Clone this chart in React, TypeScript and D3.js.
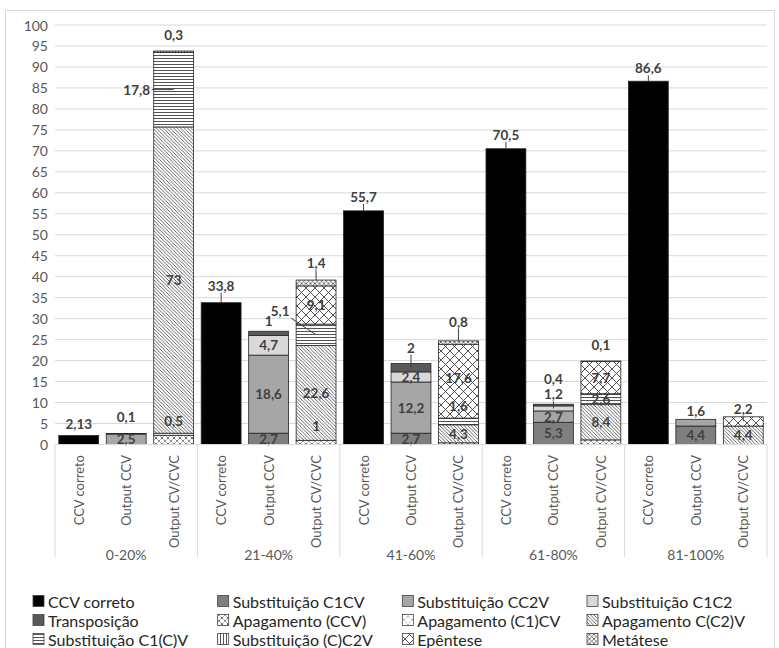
import React from 'react';
import * as d3 from 'd3';

const groups = ['0-20%', '21-40%', '41-60%', '61-80%', '81-100%'];
const subCategories = ['CCV correto', 'Output CCV', 'Output CV/CVC'];

const seriesNames = [
  'CCV correto',
  'Substituição C1CV',
  'Substituição CC2V',
  'Substituição C1C2',
  'Transposição',
  'Apagamento (CCV)',
  'Apagamento (C1)CV',
  'Apagamento C(C2)V',
  'Substituição C1(C)V',
  'Substituição (C)C2V',
  'Epêntese',
  'Metátese',
];

// one value per bar: 0-20% (CCV correto, Output CCV, Output CV/CVC), 21-40% ..., 81-100%
const ccvCorreto = [2.13, 0, 0, 33.8, 0, 0, 55.7, 0, 0, 70.5, 0, 0, 86.6, 0, 0];
const substC1CV = [0, 0, 0, 0, 2.7, 0, 0, 2.7, 0, 0, 5.3, 0, 0, 4.4, 0];
const substCC2V = [0, 2.5, 0, 0, 18.6, 0, 0, 12.2, 0, 0, 2.7, 0, 0, 1.6, 0];
const substC1C2 = [0, 0, 0, 0, 4.7, 0, 0, 2.4, 0, 0, 1.2, 0, 0, 0, 0];
const transposicao = [0, 0.1, 0, 0, 1, 0, 0, 2, 0, 0, 0.4, 0, 0, 0, 0];
const apagCCV = [0, 0, 2.2, 0, 0, 1, 0, 0, 0.4, 0, 0, 1.1, 0, 0, 0];
const apagC1CV = [0, 0, 0.5, 0, 0, 0, 0, 0, 0, 0, 0, 0, 0, 0, 0];
const apagCC2V = [0, 0, 73, 0, 0, 22.6, 0, 0, 4.3, 0, 0, 8.4, 0, 0, 4.4];
const substC1_C_V = [0, 0, 17.8, 0, 0, 5.1, 0, 0, 1.6, 0, 0, 2.6, 0, 0, 0];
const substC_C2V = [0, 0, 0.3, 0, 0, 0, 0, 0, 0, 0, 0, 0, 0, 0, 0];
const epentese = [0, 0, 0, 0, 0, 9.1, 0, 0, 17.6, 0, 0, 7.7, 0, 0, 2.2];
const metatese = [0, 0, 0, 0, 0, 1.4, 0, 0, 0.8, 0, 0, 0.1, 0, 0, 0];

const seriesValues = [
  ccvCorreto, substC1CV, substCC2V, substC1C2, transposicao, apagCCV,
  apagC1CV, apagCC2V, substC1_C_V, substC_C2V, epentese, metatese,
];

const yTicks = d3.range(0, 101, 5);

// data label placement: series index, bar index, anchor, offsets, leader line
const labelLayout = [
  { s: 0, c: 0, at: 'top', dx: 0, dy: -12, leader: false },
  { s: 4, c: 1, at: 'top', dx: 0, dy: -17, leader: false },
  { s: 2, c: 1, at: 'center', dx: 0, dy: 0, leader: false },
  { s: 9, c: 2, at: 'top', dx: 0, dy: -16, leader: false },
  { s: 8, c: 2, at: 'center', dx: -37, dy: 0, leader: true },
  { s: 7, c: 2, at: 'center', dx: 0, dy: 0, leader: false },
  { s: 6, c: 2, at: 'center', dx: 0, dy: -13, leader: false },

  { s: 0, c: 3, at: 'top', dx: 0, dy: -17, leader: true },
  { s: 4, c: 4, at: 'top', dx: 0, dy: -10, leader: false },
  { s: 3, c: 4, at: 'center', dx: 0, dy: 0, leader: false },
  { s: 2, c: 4, at: 'center', dx: 0, dy: 0, leader: false },
  { s: 1, c: 4, at: 'center', dx: 0, dy: 0, leader: false },
  { s: 11, c: 5, at: 'top', dx: 0, dy: -17, leader: true },
  { s: 10, c: 5, at: 'center', dx: 0, dy: 0, leader: false },
  { s: 8, c: 5, at: 'center', dx: -36, dy: -24, leader: true },
  { s: 7, c: 5, at: 'center', dx: 0, dy: 0, leader: false },
  { s: 5, c: 5, at: 'center', dx: 0, dy: -16, leader: false },

  { s: 0, c: 6, at: 'top', dx: 0, dy: -14, leader: true },
  { s: 4, c: 7, at: 'center', dx: 0, dy: -20, leader: true },
  { s: 3, c: 7, at: 'center', dx: 0, dy: 0, leader: false },
  { s: 2, c: 7, at: 'center', dx: 0, dy: 0, leader: false },
  { s: 1, c: 7, at: 'center', dx: 0, dy: 0, leader: false },
  { s: 11, c: 8, at: 'top', dx: 0, dy: -19, leader: true },
  { s: 10, c: 8, at: 'center', dx: 0, dy: -3, leader: false },
  { s: 8, c: 8, at: 'center', dx: 0, dy: -15, leader: false },
  { s: 7, c: 8, at: 'center', dx: 0, dy: 0, leader: false },

  { s: 0, c: 9, at: 'top', dx: 0, dy: -14, leader: true },
  { s: 4, c: 10, at: 'center', dx: 0, dy: -26, leader: false },
  { s: 3, c: 10, at: 'center', dx: 0, dy: -14, leader: true },
  { s: 2, c: 10, at: 'center', dx: 0, dy: 0, leader: false },
  { s: 1, c: 10, at: 'center', dx: 0, dy: 0, leader: false },
  { s: 11, c: 11, at: 'top', dx: 0, dy: -16, leader: false },
  { s: 10, c: 11, at: 'center', dx: 0, dy: 0, leader: false },
  { s: 8, c: 11, at: 'center', dx: 0, dy: 0, leader: false },
  { s: 7, c: 11, at: 'center', dx: 0, dy: 0, leader: false },

  { s: 0, c: 12, at: 'top', dx: 0, dy: -13, leader: true },
  { s: 2, c: 13, at: 'top', dx: 0, dy: -8, leader: false },
  { s: 1, c: 13, at: 'center', dx: 0, dy: 0, leader: false },
  { s: 10, c: 14, at: 'center', dx: 0, dy: -12, leader: true },
  { s: 7, c: 14, at: 'center', dx: 0, dy: 0, leader: false },
];

const fills = [
  '#000000', '#7f7f7f', '#a6a6a6', '#d9d9d9', '#595959',
  'url(#p-apccv)', 'url(#p-apc1cv)', 'url(#p-apcc2v)',
  'url(#p-horiz)', 'url(#p-vert)', 'url(#p-epen)', 'url(#p-meta)',
];

const fmt = (v: number) => String(v).replace('.', ',');

export default function App() {
  const W = 779;
  const H = 648;
  const left = 55;
  const right = 767;
  const cats = groups.flatMap((g) => subCategories.map((s) => `${g}|${s}`));

  const x = d3.scaleBand<string>().domain(cats).range([left, right])
    .paddingInner(0.16).paddingOuter(0.08);
  const y = d3.scaleLinear().domain([0, 100]).range([444.5, 25]);

  const rows = cats.map((c, i) => {
    const r: Record<string, number | string> = { cat: c };
    seriesNames.forEach((n, k) => { r[n] = seriesValues[k][i]; });
    return r;
  });
  const stacked = d3.stack<any>().keys(seriesNames)(rows);
  const totals = cats.map((_, i) => d3.sum(seriesValues, (a) => a[i]));

  const step = x.step();
  const bw = x.bandwidth();
  const font = 'Lato, "Open Sans", sans-serif';
  const textCol = '#595959';
  const labelCol = '#404040';

  const legendItemX = d3.scalePoint<number>().domain([0, 1, 2, 3]).range([33, 587]);
  const legendRowY = d3.scalePoint<number>().domain([0, 1, 2]).range([601, 639]);

  return (
    <svg width={W} height={H} style={{ position: 'absolute', left: 0, top: 0, fontFamily: font }}>
      <defs>
        <pattern id="p-apccv" width="6" height="6" patternUnits="userSpaceOnUse">
          <rect width="6" height="6" fill="#fff" />
          <path d="M0,0L6,6M6,0L0,6" stroke="#404040" strokeWidth="0.8" strokeDasharray="1.6 0.8" />
        </pattern>
        <pattern id="p-apc1cv" width="8" height="8" patternUnits="userSpaceOnUse">
          <rect width="8" height="8" fill="#fff" />
          <path d="M0,0L8,8M8,0L0,8" stroke="#7f7f7f" strokeWidth="0.8" strokeDasharray="1 1.2" />
        </pattern>
        <pattern id="p-apcc2v" width="3.5" height="3.5" patternUnits="userSpaceOnUse">
          <rect width="3.5" height="3.5" fill="#fff" />
          <path d="M0,0L3.5,3.5M-1,2.5L1,4.5M2.5,-1L4.5,1" stroke="#404040" strokeWidth="0.8" />
        </pattern>
        <pattern id="p-horiz" width="4" height="3" patternUnits="userSpaceOnUse">
          <rect width="4" height="3" fill="#fff" />
          <path d="M0,1.5H4" stroke="#404040" strokeWidth="0.9" />
        </pattern>
        <pattern id="p-vert" width="3" height="4" patternUnits="userSpaceOnUse">
          <rect width="3" height="4" fill="#fff" />
          <path d="M1.5,0V4" stroke="#404040" strokeWidth="0.9" />
        </pattern>
        <pattern id="p-epen" width="9" height="9" patternUnits="userSpaceOnUse">
          <rect width="9" height="9" fill="#fff" />
          <path d="M0,0L9,9M9,0L0,9" stroke="#404040" strokeWidth="0.9" />
        </pattern>
        <pattern id="p-meta" width="4.5" height="4.5" patternUnits="userSpaceOnUse">
          <rect width="4.5" height="4.5" fill="#fff" />
          <path d="M0,0L4.5,4.5M4.5,0L0,4.5" stroke="#404040" strokeWidth="0.7" />
        </pattern>
      </defs>

      <rect x={0} y={0} width={W} height={H} fill="#fff" />
      <rect x={5.5} y={10.5} width={769} height={H} fill="none" stroke="#d9d9d9" />

      {/* gridlines + y labels */}
      {yTicks.map((t) => (
        <g key={t}>
          <line x1={left} x2={right} y1={y(t)} y2={y(t)} stroke="#d9d9d9" strokeWidth={1} />
          <text x={48} y={y(t)} textAnchor="end" dominantBaseline="central" fontSize={14} fill={textCol}>
            {t}
          </text>
        </g>
      ))}

      {/* bars */}
      {stacked.map((layer, k) => (
        <g key={layer.key} fill={fills[k]}>
          {layer.map((d, i) => (d[1] - d[0] > 0 ? (
            <rect
              key={i}
              x={x(cats[i])}
              y={y(d[1])}
              width={bw}
              height={y(d[0]) - y(d[1])}
              stroke="#262626"
              strokeWidth={0.8}
            />
          ) : null))}
        </g>
      ))}

      {/* data labels */}
      {labelLayout.map((l, j) => {
        const seg = stacked[l.s][l.c];
        const cx = (x(cats[l.c]) as number) + bw / 2;
        const ay = l.at === 'top' ? y(totals[l.c]) : y((seg[0] + seg[1]) / 2);
        const tx = cx + l.dx;
        const ty = ay + l.dy;
        let leader = null;
        if (l.leader) {
          const ddx = cx - tx;
          const ddy = ay - ty;
          const len = Math.hypot(ddx, ddy) || 1;
          const ux = ddx / len;
          const uy = ddy / len;
          const cut = Math.hypot(15 * ux, 7 * uy);
          leader = (
            <line x1={tx + ux * cut} y1={ty + uy * cut} x2={cx} y2={ay} stroke="#404040" strokeWidth={1} />
          );
        }
        return (
          <g key={j}>
            {leader}
            <text x={tx} y={ty} textAnchor="middle" dominantBaseline="central" fontSize={13.5}
              fontWeight="bold" fill={labelCol}>
              {fmt(seriesValues[l.s][l.c])}
            </text>
          </g>
        );
      })}

      {/* category axis */}
      <line x1={left} x2={right} y1={y(0)} y2={y(0)} stroke="#d9d9d9" />
      {d3.range(groups.length + 1).map((g) => (
        <line key={g} x1={left + g * 3 * step} x2={left + g * 3 * step} y1={y(0)} y2={557}
          stroke="#d9d9d9" />
      ))}
      {cats.map((c, i) => (
        <text key={c} transform={`translate(${(x(c) as number) + bw / 2},455) rotate(-90)`}
          textAnchor="end" dominantBaseline="central" fontSize={13} fill={textCol}>
          {subCategories[i % 3]}
        </text>
      ))}
      {groups.map((g, gi) => (
        <text key={g} x={left + (gi + 0.5) * 3 * step} y={554} textAnchor="middle"
          dominantBaseline="central" fontSize={14} fill={textCol}>
          {g}
        </text>
      ))}

      {/* legend */}
      {seriesNames.map((n, k) => {
        const lx = legendItemX(k % 4) as number;
        const ly = legendRowY(Math.floor(k / 4)) as number;
        return (
          <g key={n}>
            <rect x={lx} y={ly - 5.5} width={11} height={11} fill={fills[k]} stroke="#404040" strokeWidth={0.8} />
            <text x={lx + 15} y={ly} dominantBaseline="central" fontSize={16} fill="#262626">
              {n}
            </text>
          </g>
        );
      })}
    </svg>
  );
}
